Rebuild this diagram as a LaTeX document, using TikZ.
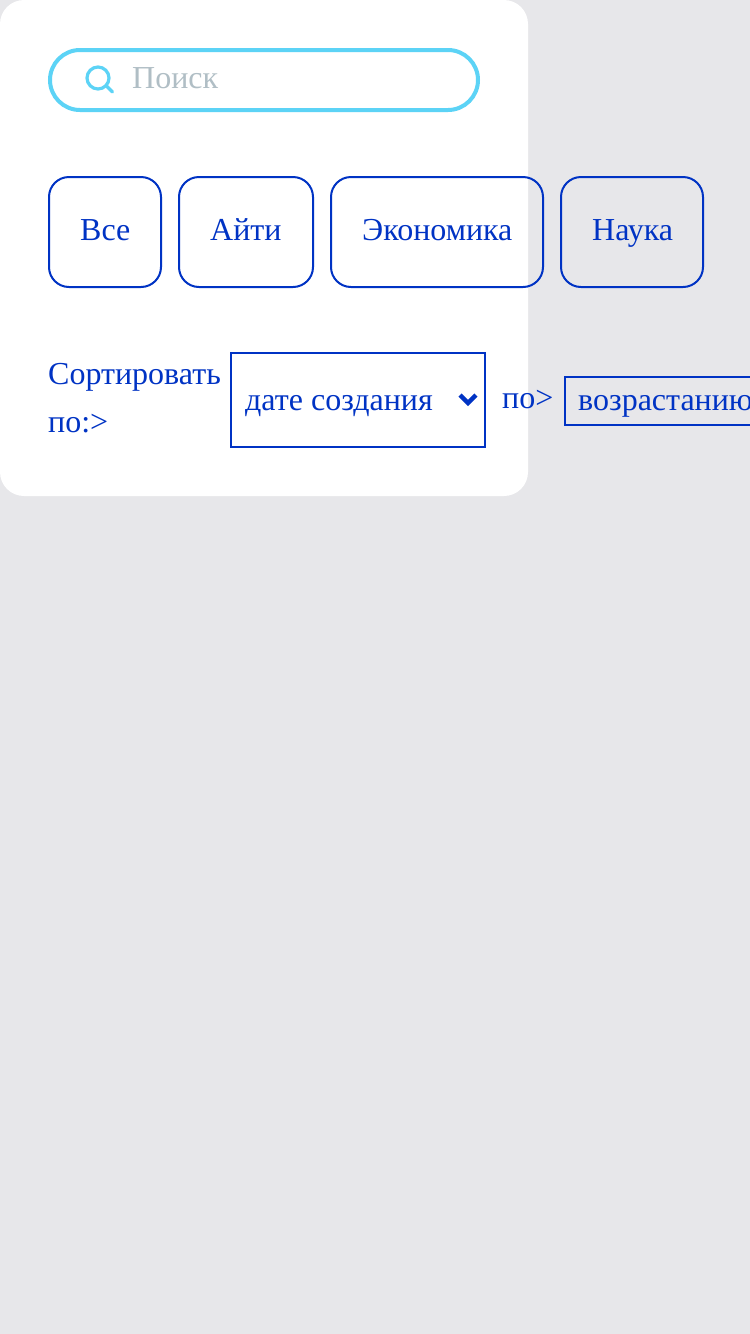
\documentclass[tikz,border=0pt]{standalone}
\usepackage{fontspec}
\setmainfont{Liberation Serif}
\definecolor{pagebg}{HTML}{E7E7EA}
\definecolor{brand}{HTML}{0033C4}
\definecolor{sky}{HTML}{5CD3F6}
\definecolor{hint}{HTML}{B0BEC5}
\newcommand{\txtsize}{\fontsize{32}{32}\selectfont}
\tikzset{
  x=1pt,y=-1pt,
  label/.style={inner sep=0pt,anchor=base west,text=brand,font=\txtsize},
  chip/.style={draw=brand,line width=2pt,rounded corners=20pt},
  selbox/.style={draw=brand,line width=2pt},
}
\begin{document}
\begin{tikzpicture}
\useasboundingbox (0,0) rectangle (750,1334);
\clip (0,0) rectangle (750,1334);
\fill[pagebg] (0,0) rectangle (750,1334);
\fill[white,rounded corners=24pt] (0,0) rectangle (528,496);
% search
\draw[sky,line width=4pt,rounded corners=30pt] (50,50) rectangle (478,110);
\draw[sky,line width=3.2pt] (98,78) circle (11);
\draw[sky,line width=3.2pt,line cap=round] (106.5,86) -- (112.5,92);
\node[label,text=hint] (search) at (132,88.5) {Поиск};
% chips
\draw[chip] (49,177) rectangle (161,287);
\node[label] (all) at (80,240.5) {Все};
\draw[chip] (179,177) rectangle (313,287);
\node[label] (it) at (210,240.5) {Айти};
\draw[chip] (331,177) rectangle (543,287);
\node[label] (econ) at (362,240.5) {Экономика};
\draw[chip] (561,177) rectangle (703,287);
\node[label] (sci) at (592,240.5) {Наука};
% sort
\node[label] (sort1) at (48,384.5) {Сортировать};
\node[label] (sort2) at (48,432.5) {по:>};
\draw[selbox] (231,353) rectangle (485,447);
\node[label] (date) at (245,410.5) {дате создания};
\draw[brand,line width=4.4pt] (460,395) -- (468,403) -- (476,395);
\node[label] (by) at (502,408.5) {по>};
\draw[selbox] (565,377) rectangle (770,425);
\node[label] (asc) at (578,410.5) {возрастанию};
\end{tikzpicture}
\end{document}
